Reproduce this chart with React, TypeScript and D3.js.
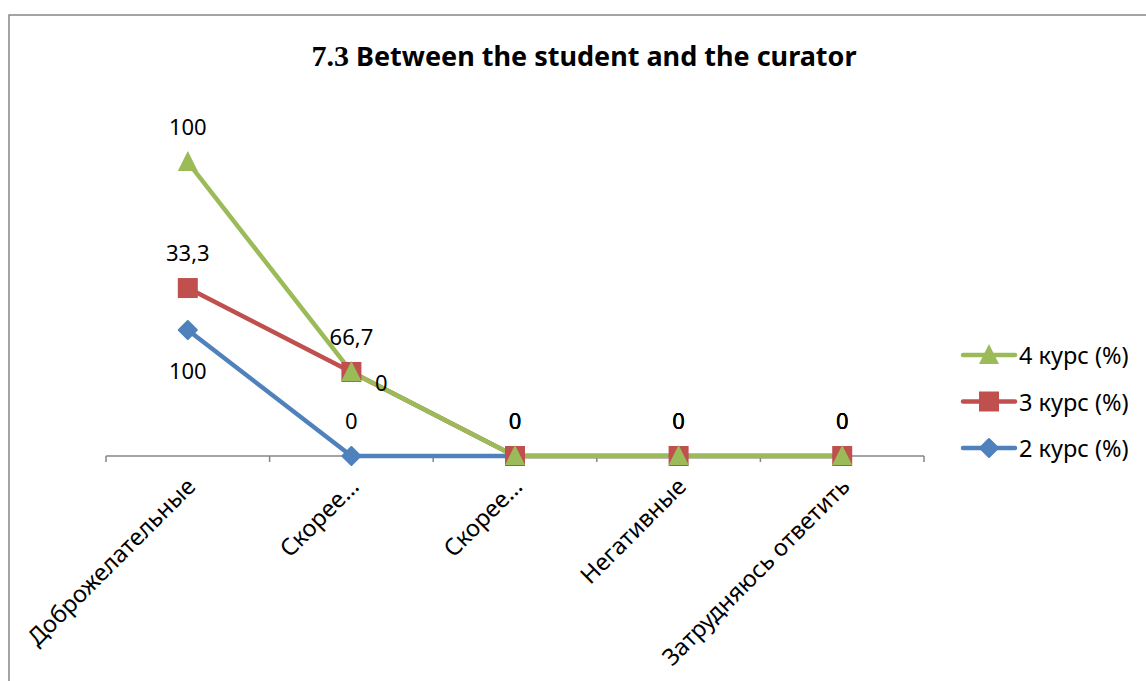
import React from 'react';
import * as d3 from 'd3';

const categories = ['Доброжелательные', 'Скорее…', 'Скорее…', 'Негативные', 'Затрудняюсь ответить'];
const seriesNames = ['2 курс (%)', '3 курс (%)', '4 курс (%)'];
const course2 = [100, 0, 0, 0, 0];
const course3 = [33.3, 66.7, 0, 0, 0];
const course4 = [100, 0, 0, 0, 0];
const labelPos2 = ['below', 'above', 'above', 'above', 'above'];
const labelPos3 = ['above', 'above', 'above', 'above', 'above'];
const labelPos4 = ['above', 'right', 'above', 'above', 'above'];

const colors = ['#4F81BD', '#C0504D', '#9BBB59'];
const FONT = "'Noto Sans', 'Open Sans', sans-serif";

const markerPath = (k: number) => {
  if (k === 0) {
    const p = d3.path();
    p.moveTo(0, -9); p.lineTo(9, 0); p.lineTo(0, 9); p.lineTo(-9, 0); p.closePath();
    return p.toString();
  }
  if (k === 1) {
    const p = d3.path();
    p.rect(-10, -10, 20, 20);
    return p.toString();
  }
  const p = d3.path();
  p.moveTo(0, -11); p.lineTo(10, 9); p.lineTo(-10, 9); p.closePath();
  return p.toString();
};

export default function App() {
  const W = 1146, H = 681;
  const rows = categories.map((c, i) => ({ i, s0: course2[i], s1: course3[i], s2: course4[i] }));
  const stack = d3.stack<any>().keys(['s0', 's1', 's2']);
  const stacked = stack(rows);
  const labelPos = [labelPos2, labelPos3, labelPos4];
  const raw = [course2, course3, course4];

  const x = d3.scaleBand<number>().domain(categories.map((_, i) => i)).range([106, 924]);
  const cx = (i: number) => (x(i) as number) + x.bandwidth() / 2;
  const y = d3.scaleLinear().domain([0, 250]).range([456, 141]);
  const line = d3.line<any>().x((d) => cx(d.data.i)).y((d) => y(d[1]));

  const fmt = (v: number) => String(v).replace('.', ',');
  const ticks = d3.range(categories.length + 1).map((j) => 106 + j * x.bandwidth());

  return (
    <svg width={W} height={H} style={{ position: 'absolute', left: 0, top: 0, background: '#fff' }}>
      <rect x={9} y={15} width={1160} height={700} fill="#fff" stroke="#868686" strokeWidth={1.5} />
      <text x={584} y={66} textAnchor="middle" fontWeight="bold" fontSize={27} fill="#000">
        <tspan fontFamily="'Liberation Serif', serif" fontSize={30}>7.3</tspan>
        <tspan fontFamily={FONT}> Between the student and the curator</tspan>
      </text>

      {/* axis */}
      <line x1={106} x2={924} y1={456} y2={456} stroke="#868686" strokeWidth={1.5} />
      {ticks.map((t, j) => (
        <line key={j} x1={t} x2={t} y1={456} y2={462} stroke="#868686" strokeWidth={1.5} />
      ))}
      {categories.map((c, i) => (
        <text key={i} transform={`translate(${cx(i) + 9},${488}) rotate(-45)`} textAnchor="end"
          fontFamily={FONT} fontSize={23.5} fill="#000">{c}</text>
      ))}

      {/* lines */}
      {stacked.map((s, k) => (
        <path key={k} d={line(s as any) as string} fill="none" stroke={colors[k]} strokeWidth={4.5} strokeLinejoin="round" />
      ))}
      {stacked.map((s, k) => (
        <g key={k}>
          {s.map((d: any, i: number) => (
            <path key={i} d={markerPath(k)} transform={`translate(${cx(i)},${y(d[1])})`} fill={colors[k]}
              stroke={colors[k]} strokeWidth={k === 0 ? 2 : 0} strokeLinejoin="round" />
          ))}
        </g>
      ))}

      {/* labels */}
      {stacked.map((s, k) => (
        <g key={k}>
          {s.map((d: any, i: number) => {
            const pos = labelPos[k][i];
            const px = cx(i) + (pos === 'right' ? 30 : 0);
            const py = y(d[1]) + (pos === 'above' ? -36 : pos === 'below' ? 40 : 10);
            return (
              <text key={i} x={px} y={py} textAnchor="middle" dominantBaseline="central"
                fontFamily={FONT} fontSize={22} fill="#000">{fmt(raw[k][i])}</text>
            );
          })}
        </g>
      ))}

      {/* legend */}
      {[2, 1, 0].map((k, r) => {
        const ly = 355 + r * 46.5;
        return (
          <g key={k}>
            <line x1={963} x2={1015} y1={ly} y2={ly} stroke={colors[k]} strokeWidth={4.5} strokeLinecap="round" />
            <path d={markerPath(k)} transform={`translate(989,${ly})`} fill={colors[k]}
              stroke={colors[k]} strokeWidth={k === 0 ? 2 : 0} strokeLinejoin="round" />
            <text x={1019} y={ly} dominantBaseline="central" fontFamily={FONT} fontSize={23.5} fill="#000">{seriesNames[k]}</text>
          </g>
        );
      })}
    </svg>
  );
}
